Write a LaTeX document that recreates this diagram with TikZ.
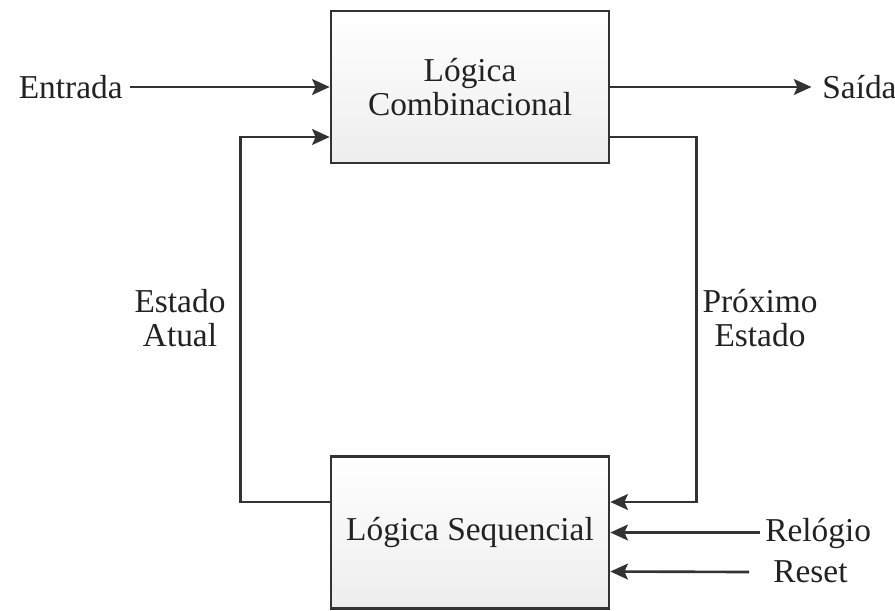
\documentclass[tikz,border=0pt]{standalone}
\usepackage{fontspec}
\setmainfont{Liberation Serif}
\usepackage{tikz}
\usetikzlibrary{calc, arrows.meta}

\definecolor{linegray}{HTML}{333333}
\definecolor{txtgray}{HTML}{222222}

\tikzset{
  blk/.style={draw=linegray, line width=1.5pt, minimum width=5.56cm, minimum height=3.04cm,
    top color=white, bottom color=gray!14, align=center, text=txtgray},
  lbl/.style={text=txtgray, align=center, inner sep=0pt},
  conn/.style={-{Stealth[length=10pt,width=9pt,inset=2pt]}, draw=linegray, line width=1.5pt}
}

\begin{document}
\begin{tikzpicture}[font=\fontsize{19}{19}\selectfont]
          \useasboundingbox (0,0) rectangle (17.9,-12.2);

          % blocos
          \node [blk] (comb) at (9.4,-1.74) {Lógica\\Combinacional};
          \node [blk] (seq) at (9.4,-10.65) {Lógica Sequencial};

          % entradas e saidas
          \node [lbl, anchor=east] (ent) at (2.46,-1.74) {Entrada};
          \node [lbl, anchor=west] (sai) at (16.44,-1.74) {Saída};
          \node [lbl, anchor=west] (rel) at (15.3,-10.66) {Relógio};
          \node [lbl, anchor=west] (rst) at (15.46,-11.44) {Reset};
          \node [lbl] (atual) at (3.6,-6.36) {Estado\\Atual};
          \node [lbl] (prox) at (15.2,-6.36) {Próximo\\Estado};

          \draw [conn] ([xshift=4pt]ent.east) -- (comb.west);
          \draw [conn] (comb.east) -- ([xshift=-6pt]sai.west);
          \draw [conn] ([xshift=-3pt]rel.west |- seq.east) -- (seq.east);
          \draw [conn] ([xshift=-9pt]rel.west |- rst.west) -- ([yshift=-0.78cm]seq.east);

          % realimentacao
          \draw [conn] ([yshift=0.61cm]seq.west) -- ++(-1.78,0) |- ([yshift=-1cm]comb.west);
          \draw [conn] ([yshift=-1cm]comb.east) -- ++(1.72,0) |- ([yshift=0.61cm]seq.east);

\end{tikzpicture}
\end{document}
